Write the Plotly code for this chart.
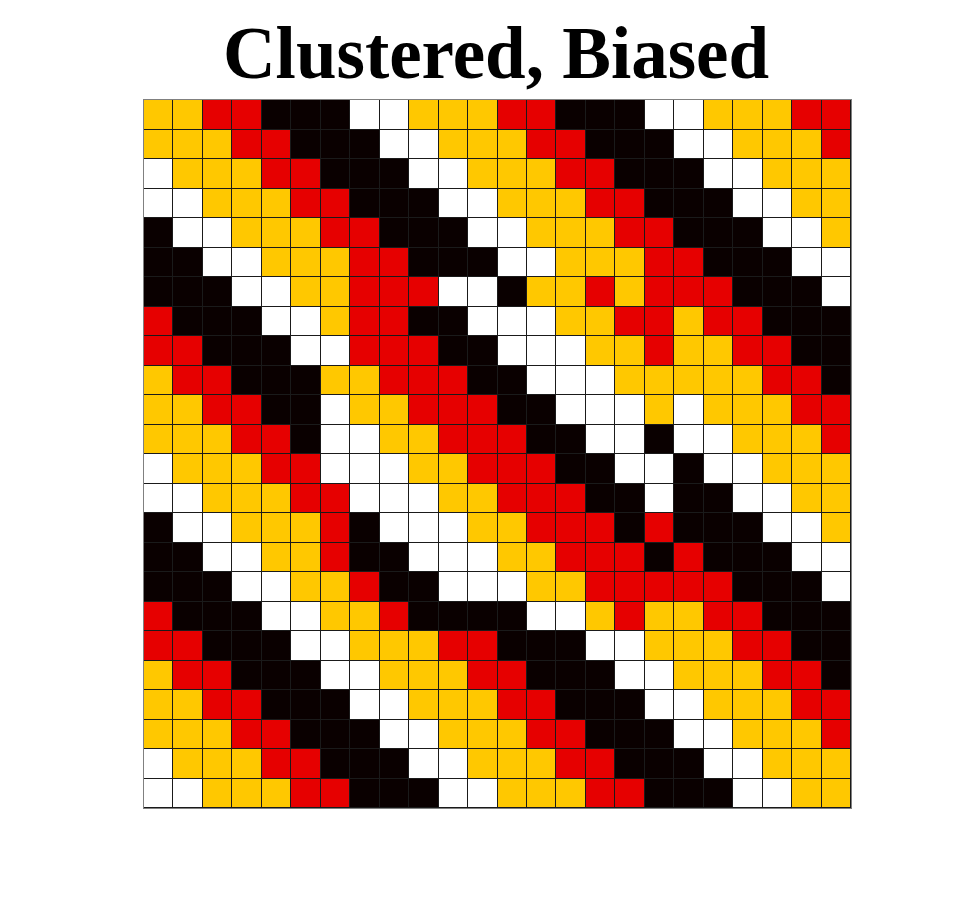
import plotly.graph_objects as go

# Cell states: W=empty (white), Y=yellow, R=red, K=black
categories = ["W", "Y", "R", "K"]
category_colors = ["#FFFFFF", "#FFC800", "#E60000", "#0A0000"]

grid_rows = [
    "YYRRKKKWWYYYRRKKKWWYYYRR",
    "YYYRRKKKWWYYYRRKKKWWYYYR",
    "WYYYRRKKKWWYYYRRKKKWWYYY",
    "WWYYYRRKKKWWYYYRRKKKWWYY",
    "KWWYYYRRKKKWWYYYRRKKKWWY",
    "KKWWYYYRRKKKWWYYYRRKKKWW",
    "KKKWWYYRRRWWKYYRYRRRKKKW",
    "RKKKWWYRRKKWWWYYRRYRRKKK",
    "RRKKKWWRRRKKWWWYYRYYRRKK",
    "YRRKKKYYRRRKKWWWYYYYYRRK",
    "YYRRKKWYYRRRKKWWWYWYYYRR",
    "YYYRRKWWYYRRRKKWWKWWYYYR",
    "WYYYRRWWWYYRRRKKWWKWWYYY",
    "WWYYYRRWWWYYRRRKKWKKWWYY",
    "KWWYYYRKWWWYYRRRKRKKKWWY",
    "KKWWYYRKKWWWYYRRRKRKKKWW",
    "KKKWWYYRKKWWWYYRRRRRKKKW",
    "RKKKWWYYRKKKKWWYRYYRRKKK",
    "RRKKKWWYYYRRKKKWWYYYRRKK",
    "YRRKKKWWYYYRRKKKWWYYYRRK",
    "YYRRKKKWWYYYRRKKKWWYYYRR",
    "YYYRRKKKWWYYYRRKKKWWYYYR",
    "WYYYRRKKKWWYYYRRKKKWWYYY",
    "WWYYYRRKKKWWYYYRRKKKWWYY",
]

title_text = "Clustered, Biased"

z = [[categories.index(c) for c in row] for row in grid_rows]
n = len(categories) - 1
colorscale = [[i / n, col] for i, col in enumerate(category_colors)]

fig = go.Figure(
    go.Heatmap(
        z=z,
        zmin=0,
        zmax=n,
        colorscale=colorscale,
        showscale=False,
        xgap=1,
        ygap=1,
        hoverinfo="skip",
    )
)

fig.update_layout(
    width=958,
    height=907,
    autosize=False,
    margin=dict(l=136, r=115, t=92, b=107),
    paper_bgcolor="white",
    plot_bgcolor="#1a1a1a",
    title=dict(
        text=title_text,
        x=488 / 958,
        xanchor="center",
        xref="container",
        yref="container",
        y=1 - 44 / 907,
        yanchor="middle",
        font=dict(family="Liberation Serif", size=73, color="black", weight="bold"),
    ),
)
fig.update_xaxes(
    showticklabels=False, ticks="", showgrid=False, zeroline=False,
    showline=True, linecolor="#808080", linewidth=1, mirror=True,
    range=[-0.5, 23.5],
)
fig.update_yaxes(
    showticklabels=False, ticks="", showgrid=False, zeroline=False,
    showline=True, linecolor="#808080", linewidth=1, mirror=True,
    range=[23.5, -0.5],
)

fig.write_html("out.html")
